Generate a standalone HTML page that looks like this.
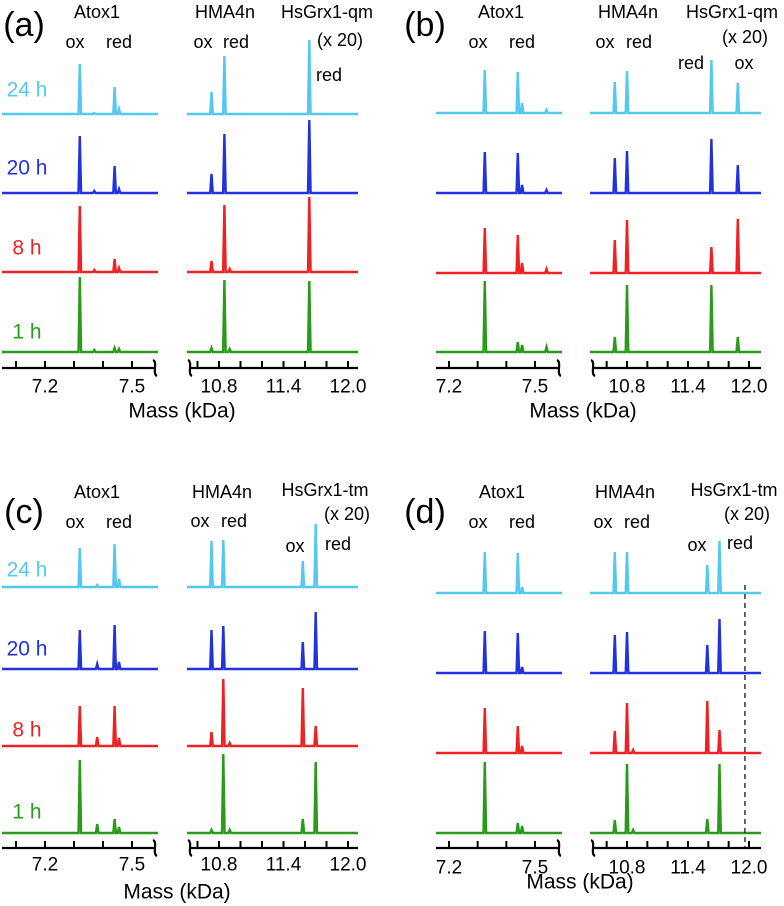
<!DOCTYPE html>
<html><head><meta charset="utf-8"><style>
html,body{margin:0;padding:0;background:#fff;}
svg{display:block;font-family:"Liberation Sans",Arial,sans-serif;}
</style></head><body>
<svg id="fig" width="784" height="906" viewBox="0 0 784 906" xmlns="http://www.w3.org/2000/svg"></svg>
<script>
// ---------- data (kDa positions, peak heights in arbitrary units) ----------
const rowLabels = ["24 h", "20 h", "8 h", "1 h"];
const rowColors = ["#55c8f0", "#2233dd", "#ee2222", "#2a9a1a"];
const tickLeft = [7.1, 7.2, 7.3, 7.4, 7.5];
const tickRight = [10.6, 10.8, 11.0, 11.2, 11.4, 11.6, 11.8, 12.0];
const tickLabelsLeft = ["7.2", "7.5"];
const tickLabelsRight = ["10.8", "11.4", "12.0"];

const aPeaks = [7.32, 7.37, 7.44, 7.455, 10.73, 10.85, 10.9, 11.64];
const aHeights = [
  [50, 1, 27, 5, 22, 58, 0, 74],
  [57, 2, 27, 4, 19, 59, 0, 73],
  [66, 2, 13, 4, 11, 67, 3, 75],
  [75, 2, 4, 3, 4, 72, 3, 71]
];
const bPeaks = [7.325, 7.44, 7.455, 7.54, 10.68, 10.8, 11.63, 11.89];
const bHeights = [
  [43, 41, 10, 3, 31, 42, 53, 30],
  [41, 40, 8, 3, 35, 42, 54, 28],
  [45, 38, 10, 4, 33, 53, 26, 54],
  [71, 10, 7, 5, 15, 67, 67, 15]
];
const cPeaks = [7.32, 7.38, 7.44, 7.455, 10.73, 10.84, 10.9, 11.58, 11.70];
const cHeights = [
  [39, 2, 43, 8, 46, 47, 0, 26, 63],
  [39, 5, 44, 7, 39, 43, 0, 27, 57],
  [40, 9, 40, 8, 14, 67, 3, 58, 20],
  [73, 9, 14, 6, 3, 79, 3, 14, 71]
];
const dPeaks = [7.325, 7.44, 7.455, 10.68, 10.8, 10.86, 11.59, 11.71];
const dHeights = [
  [41, 40, 6, 41, 41, 0, 28, 52],
  [42, 40, 6, 38, 41, 0, 28, 54],
  [45, 27, 7, 22, 50, 3, 52, 23],
  [71, 10, 7, 13, 69, 3, 14, 69]
];
const dDashed = 11.96;

// ---------- layout ----------
const NS = "http://www.w3.org/2000/svg";
const svg = document.getElementById("fig");
function el(tag, attrs, parent) {
  const e = document.createElementNS(NS, tag);
  for (const k in attrs) e.setAttribute(k, attrs[k]);
  (parent || svg).appendChild(e);
  return e;
}
function txt(s, x, y, size, anchor, fill, parent) {
  const t = el("text", {x: x, y: y, "font-size": size, "text-anchor": anchor || "middle", "dominant-baseline": "central", fill: fill || "#000"}, parent);
  t.textContent = s;
  return t;
}
function lin(k1, p1, k2, p2) { return k => p1 + (k - k1) * (p2 - p1) / (k2 - k1); }

const panels = [
  {id: "a", peaks: aPeaks, heights: aHeights, L: [2, 158], R: [187, 358], xl: lin(7.2, 45, 7.5, 132), xr: lin(10.8, 219, 12.0, 348),
   base: [114, 193, 272, 352], axisY: 368, tickLabY: 387, rows: true, rowY: [90, 168, 248, 332],
   label: ["(a)", 24, 25], texts: [["Atox1", 97, 12], ["ox", 75, 42], ["red", 119, 42], ["HMA4n", 225, 12], ["ox", 203, 42], ["red", 236, 42], ["HsGrx1-qm", 327, 12], ["(x 20)", 340, 40], ["red", 329, 75]],
   mass: [182, 411]},
  {id: "b", peaks: bPeaks, heights: bHeights, L: [436, 562], R: [590, 761], xl: lin(7.2, 449, 7.5, 535), xr: lin(10.8, 627, 12.0, 749),
   base: [113, 193, 273, 352], axisY: 368, tickLabY: 387, rows: false,
   label: ["(b)", 425, 25], texts: [["Atox1", 501, 12], ["ox", 478, 42], ["red", 522, 42], ["HMA4n", 628, 12], ["ox", 605, 42], ["red", 639, 42], ["HsGrx1-qm", 732, 12], ["(x 20)", 745, 37], ["red", 691, 63], ["ox", 744, 63]],
   mass: [583, 411]},
  {id: "c", peaks: cPeaks, heights: cHeights, L: [2, 158], R: [187, 358], xl: lin(7.2, 45, 7.5, 132), xr: lin(10.8, 219, 12.0, 348),
   base: [587, 669, 746, 833], axisY: 848, tickLabY: 865, rows: true, rowY: [570, 649, 730, 812],
   label: ["(c)", 24, 512], texts: [["Atox1", 97, 492], ["ox", 75, 522], ["red", 119, 522], ["HMA4n", 222, 492], ["ox", 200, 521], ["red", 234, 521], ["HsGrx1-tm", 325, 490], ["(x 20)", 347, 514], ["ox", 295, 546], ["red", 338, 544]],
   mass: [177, 892]},
  {id: "d", peaks: dPeaks, heights: dHeights, L: [436, 562], R: [590, 761], xl: lin(7.2, 449, 7.5, 535), xr: lin(10.8, 627, 12.0, 749),
   base: [593, 673, 753, 833], axisY: 848, tickLabY: 868, rows: false,
   label: ["(d)", 425, 512], texts: [["Atox1", 502, 492], ["ox", 478, 522], ["red", 522, 522], ["HMA4n", 625, 492], ["ox", 603, 522], ["red", 637, 522], ["HsGrx1-tm", 734, 490], ["(x 20)", 747, 514], ["ox", 697, 545], ["red", 740, 543]],
   mass: [580, 882], dashed: dDashed}
];

panels.forEach(P => {
  const g = el("g", {});
  
  

  const lab = txt(P.label[0], P.label[1], P.label[2], 34, "middle", "#000", g);
  
  

  P.texts.forEach(t => {
    const e = txt(t[0], t[1], t[2], 18, "middle", "#000", g);
    
    
  });

  if (P.rows) {
    rowLabels.forEach((r, i) => {
      const e = txt(r, 27, P.rowY[i], 21, "middle", rowColors[i], g);
      
      
    });
  }

  P.heights.forEach((hs, ri) => {
    const b = P.base[ri];
    [[P.L, P.xl, k => k < 9], [P.R, P.xr, k => k > 9]].forEach(seg => {
      const [range, fx, inSeg] = seg;
      const pk = P.peaks.map((k, j) => [fx(k), hs[j], k]).filter(p => inSeg(p[2]) && p[1] > 0).sort((u, v) => u[0] - v[0]);
      let d = "M" + range[0] + "," + b;
      pk.forEach(p => {
        d += " L" + (p[0] - 1.3).toFixed(1) + "," + b + " L" + p[0].toFixed(1) + "," + (b - p[1]).toFixed(1) + " L" + (p[0] + 1.3).toFixed(1) + "," + b;
      });
      d += " L" + range[1] + "," + b;
      const path = el("path", {d: d, fill: "none", stroke: rowColors[ri], "stroke-width": 2.4, "stroke-linejoin": "miter"}, g);
      
      
    });
  });

  const ax = el("g", {}, g);
  
  
  el("line", {x1: P.L[0], y1: P.axisY, x2: P.L[1] - 4, y2: P.axisY, stroke: "#000", "stroke-width": 2.2}, ax);
  el("line", {x1: P.R[0] + 4, y1: P.axisY, x2: P.R[1], y2: P.axisY, stroke: "#000", "stroke-width": 2.2}, ax);
  tickLeft.forEach(k => {
    const x = P.xl(k);
    if (x > P.L[0] + 2 && x < P.L[1] - 6) el("line", {x1: x, y1: P.axisY - 7, x2: x, y2: P.axisY, stroke: "#000", "stroke-width": 2}, ax);
  });
  tickRight.forEach(k => {
    const x = P.xr(k);
    if (x > P.R[0] + 6 && x < P.R[1] - 1) el("line", {x1: x, y1: P.axisY - 7, x2: x, y2: P.axisY, stroke: "#000", "stroke-width": 2}, ax);
  });
  const bx1 = P.L[1] - 3, bx2 = P.R[0] + 3, y = P.axisY;
  el("path", {d: `M${bx1 - 2},${y - 8} C${bx1 + 3},${y - 6} ${bx1 - 3},${y + 6} ${bx1 + 2},${y + 8}`, fill: "none", stroke: "#000", "stroke-width": 2.2}, ax);
  el("path", {d: `M${bx2 - 2},${y - 8} C${bx2 + 3},${y - 6} ${bx2 - 3},${y + 6} ${bx2 + 2},${y + 8}`, fill: "none", stroke: "#000", "stroke-width": 2.2}, ax);
  tickLabelsLeft.forEach(s => {
    const t = txt(s, P.xl(parseFloat(s)), P.tickLabY, 19, "middle", "#000", ax);
    
    
  });
  tickLabelsRight.forEach(s => {
    const t = txt(s, P.xr(parseFloat(s)), P.tickLabY, 19, "middle", "#000", ax);
    
    
  });
  const m = txt("Mass (kDa)", P.mass[0], P.mass[1], 21, "middle", "#000", g);
  
  

  if (P.dashed !== undefined) {
    const x = P.xr(P.dashed);
    const dl = el("line", {x1: x, y1: P.base[0] - 8, x2: x, y2: P.axisY - 1, stroke: "#333", "stroke-width": 1.5, "stroke-dasharray": "5,4"}, g);
    
    
  }
});
</script>
</body></html>
